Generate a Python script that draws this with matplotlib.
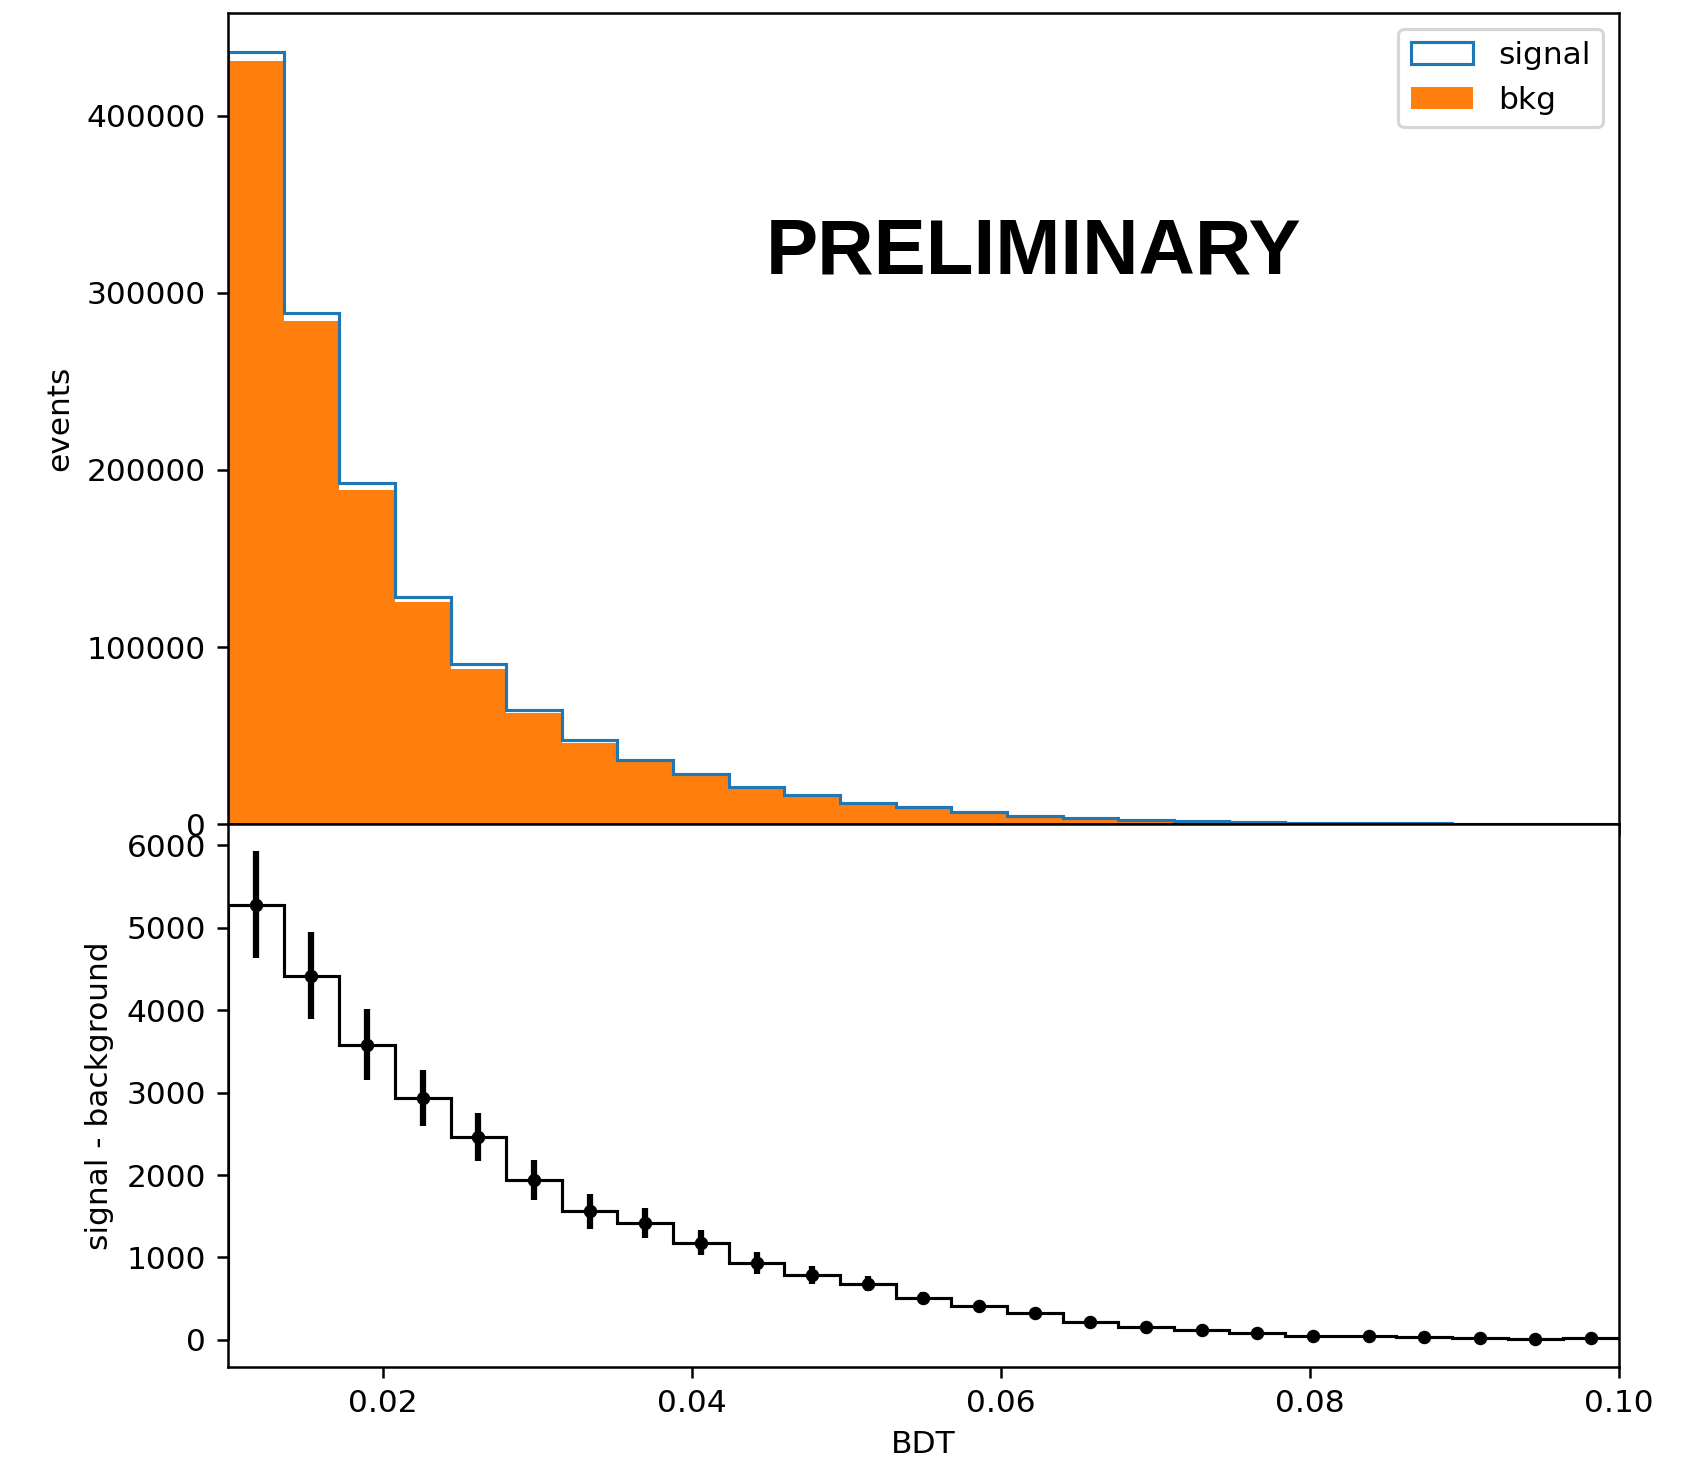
from matplotlib import pyplot as plt
import numpy as np

# binning of the BDT score
edges = np.linspace(0.01, 0.10, 26)

# events per bin
signal = [436300, 288700, 192400, 128300, 90200, 64700, 47200, 36300, 28400, 21200,
          16300, 12100, 9700, 6700, 4800, 3500, 2300, 1700, 1200, 800,
          550, 400, 300, 200, 150]
# signal - background per bin and its error
diff = [5280, 4420, 3580, 2930, 2460, 1940, 1560, 1420, 1180, 930,
        790, 680, 510, 410, 330, 220, 160, 120, 85, 50,
        45, 30, 20, 10, 20]
diff_err = [650, 525, 430, 340, 295, 245, 210, 185, 155, 135,
            110, 90, 70, 45, 35, 30, 25, 20, 20, 15,
            15, 12, 12, 10, 10]
bkg = [s - d for s, d in zip(signal, diff)]

centers = 0.5 * (edges[1:] + edges[:-1])

dpi = 225
fig = plt.figure(figsize=(1685 / dpi, 1458 / dpi), dpi=dpi)
ax1 = fig.add_axes([0.1353, 0.4348, 0.8255, 0.5563])
ax2 = fig.add_axes([0.1353, 0.0624, 0.8255, 0.3724], sharex=ax1)

# top: signal outline over filled background
ax1.hist(centers, bins=edges, weights=signal, histtype='step', color='tab:blue',
         linewidth=1.0, label='signal')
ax1.hist(centers, bins=edges, weights=bkg, histtype='stepfilled', color='tab:orange',
         label='bkg')
ax1.set_ylabel('events')
ax1.legend(loc='upper right')
ax1.tick_params(labelbottom=False)
ax1.text(0.579, 0.704, 'PRELIMINARY', transform=ax1.transAxes, ha='center', va='center',
         fontsize=25, fontweight='bold', family='Liberation Sans')

# bottom: difference with errors
ax2.hist(centers, bins=edges, weights=diff, histtype='step', color='black', linewidth=1.0)
ax2.errorbar(centers, diff, yerr=diff_err, fmt='o', color='black', markersize=3.3,
             elinewidth=2)
ax2.set_xlim(0.01, 0.10)
ax2.set_ylim(-330, 6260)
ax2.set_xlabel('BDT')
ax2.set_ylabel('signal - background')

fig.savefig('out.png', dpi=dpi)
